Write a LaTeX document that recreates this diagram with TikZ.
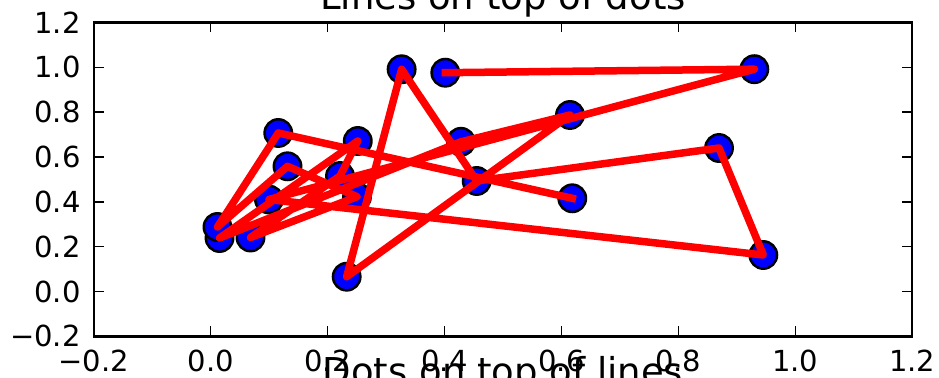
\documentclass[tikz,border=0pt]{standalone}
\usepackage{fontspec}
\setmainfont{DejaVu Sans}
\definecolor{dotblue}{RGB}{0,0,255}
\definecolor{linered}{RGB}{255,0,0}
\tikzset{
  scatterdot/.style={draw=black, line width=1.25pt, fill=dotblue, circle, inner sep=0pt, minimum size=13.7pt},
  redline/.style={draw=linered, line width=3.75pt, line cap=rect, line join=round},
  axframe/.style={draw=black, line width=1.25pt},
  axtick/.style={draw=black, line width=0.75pt},
  ticklabel/.style={inner sep=0pt, font=\fontsize{14.5}{17}\selectfont},
  titlelabel/.style={inner sep=0pt, font=\fontsize{18.5}{22}\selectfont}
}
\begin{document}
\begin{tikzpicture}[x=292.3pt, y=112.1pt]
\clip (-0.3604,-0.3814) rectangle (1.2458,1.3002);

% dots, numbered in the order of the red line
\node[scatterdot] (1) at (0.4013,0.9759) {};
\node[scatterdot] (2) at (0.9299,0.9916) {};
\node[scatterdot] (3) at (0.0997,0.4103) {};
\node[scatterdot] (4) at (0.9453,0.1628) {};
\node[scatterdot] (5) at (0.8695,0.6400) {};
\node[scatterdot] (6) at (0.4550,0.4929) {};
\node[scatterdot] (7) at (0.3266,0.9911) {};
\node[scatterdot] (8) at (0.2326,0.0660) {};
\node[scatterdot] (9) at (0.6146,0.7873) {};
\node[scatterdot] (10) at (0.4281,0.6677) {};
\node[scatterdot] (11) at (0.0151,0.2386) {};
\node[scatterdot] (12) at (0.2516,0.6713) {};
\node[scatterdot] (13) at (0.2212,0.5151) {};
\node[scatterdot] (14) at (0.0681,0.2409) {};
\node[scatterdot] (15) at (0.2503,0.4228) {};
\node[scatterdot] (16) at (0.1314,0.5584) {};
\node[scatterdot] (17) at (0.0116,0.2877) {};
\node[scatterdot] (18) at (0.1156,0.7070) {};
\node[scatterdot] (19) at (0.6185,0.4157) {};

% lines on top of dots
\path[redline] (1.center) -- (2.center) -- (3.center) -- (4.center) -- (5.center)
  -- (6.center) -- (7.center) -- (8.center) -- (9.center) -- (10.center)
  -- (11.center) -- (12.center) -- (13.center) -- (14.center) -- (15.center)
  -- (16.center) -- (17.center) -- (18.center) -- (19.center);

% axes
\path[axframe] (-0.2,-0.2) rectangle (1.2,1.2);
\foreach \x/\t [count=\i] in {-0.2/−0.2, 0/0.0, 0.2/0.2, 0.4/0.4, 0.6/0.6, 0.8/0.8, 1.0/1.0, 1.2/1.2} {
  \path[axtick] (\x,-0.2) -- (\x,-0.1554);
  \path[axtick] (\x,1.2) -- (\x,1.1554);
  \node[ticklabel, anchor=north] (xl\i) at (\x,-0.261) {\t};
}
\foreach \y/\t [count=\i] in {-0.2/−0.2, 0/0.0, 0.2/0.2, 0.4/0.4, 0.6/0.6, 0.8/0.8, 1.0/1.0, 1.2/1.2} {
  \path[axtick] (-0.2,\y) -- (-0.1829,\y);
  \path[axtick] (1.2,\y) -- (1.1829,\y);
  \node[ticklabel, anchor=east] (yl\i) at (-0.2219,\y) {\t};
}

% titles, cut by the page
\node[titlelabel, anchor=base] (top) at (0.5,1.2578) {Lines on top of dots};
\node[titlelabel, anchor=base] (bottom) at (0.5,-0.4148) {Dots on top of lines};
\end{tikzpicture}
\end{document}
